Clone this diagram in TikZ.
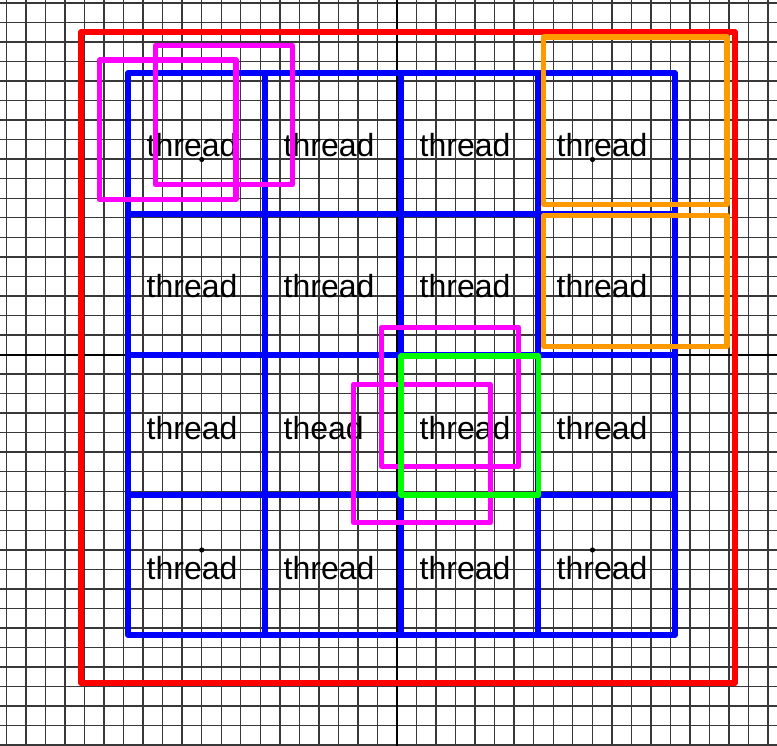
\documentclass[tikz,border=0pt]{standalone}
\usepackage{fontspec}
\setmainfont{Liberation Sans}
\definecolor{pmag}{RGB}{255,0,255}
\definecolor{porange}{RGB}{255,153,0}
\definecolor{pgreen}{RGB}{0,255,0}
\definecolor{pblue}{RGB}{0,0,255}
\definecolor{pred}{RGB}{255,0,0}
\begin{document}
\begin{tikzpicture}[x=1pt,y=-1pt,
  gridline/.style={line width=1.4pt,draw=black!78},
  axisline/.style={line width=2pt,draw=black},
  box/.style={line width=5.2pt,line join=round},
  lbl/.style={anchor=base west,inner sep=0pt,font=\fontsize{32}{38}\selectfont},
  dotmark/.style={fill=black}]
\useasboundingbox (0,0) rectangle (777,746);
\fill[white] (0,0) rectangle (777,746);
% grid
\begin{scope}
\clip (0,0) rectangle (777,746);
\foreach \k in {-20,...,19} \draw[gridline] ({397+19.53*\k},0) -- ({397+19.53*\k},746);
\foreach \k in {-18,...,20} \draw[gridline] (0,{354.5+19.53*\k}) -- (777,{354.5+19.53*\k});
\draw[axisline] (397,0) -- (397,746);
\draw[axisline] (0,354.5) -- (777,354.5);
\end{scope}
% red outer frame
\draw[box,pred] (81,32) rectangle (735,683);
% blue 4x4 grid
\draw[box,pblue] (128,73) rectangle (675,635);
\foreach \x in {265,401,538} \draw[box,pblue] (\x,73) -- (\x,635);
\foreach \y in {214,355,495} \draw[box,pblue] (128,\y) -- (675,\y);
% labels
\node[lbl] (t11) at (146.5,157) {thread};
\node[lbl] (t12) at (283.5,157) {thread};
\node[lbl] (t13) at (419.5,157) {thread};
\node[lbl] (t14) at (556.5,157) {thread};
\node[lbl] (t21) at (146.5,298) {thread};
\node[lbl] (t22) at (283.5,298) {thread};
\node[lbl] (t23) at (419.5,298) {thread};
\node[lbl] (t24) at (556.5,298) {thread};
\node[lbl] (t31) at (146.5,439) {thread};
\node[lbl] (t32) at (283.5,439) {thead};
\node[lbl] (t33) at (419.5,439) {thread};
\node[lbl] (t34) at (556.5,439) {thread};
\node[lbl] (t41) at (146.5,579) {thread};
\node[lbl] (t42) at (283.5,579) {thread};
\node[lbl] (t43) at (419.5,579) {thread};
\node[lbl] (t44) at (556.5,579) {thread};
% dots
\fill[dotmark] (201.7,159.5) circle (2.6);
\fill[dotmark] (592.5,159.5) circle (2.6);
\fill[dotmark] (201.7,550) circle (2.6);
\fill[dotmark] (592.5,550) circle (2.6);
% magenta boxes
\draw[box,pmag] (99.5,60) rectangle (236,199.5);
\draw[box,pmag] (155.5,45.5) rectangle (292.5,184.5);
\draw[box,pmag] (381.5,327.5) rectangle (518.5,466.5);
\draw[box,pmag] (353.5,384.5) rectangle (490.5,522.5);
% green box
\draw[box,pgreen] (401,356) rectangle (538.5,495);
% orange boxes
\draw[box,porange] (543.5,37) rectangle (727,204.5);
\draw[box,porange] (543.5,215.5) rectangle (727,346.5);
\end{tikzpicture}
\end{document}
